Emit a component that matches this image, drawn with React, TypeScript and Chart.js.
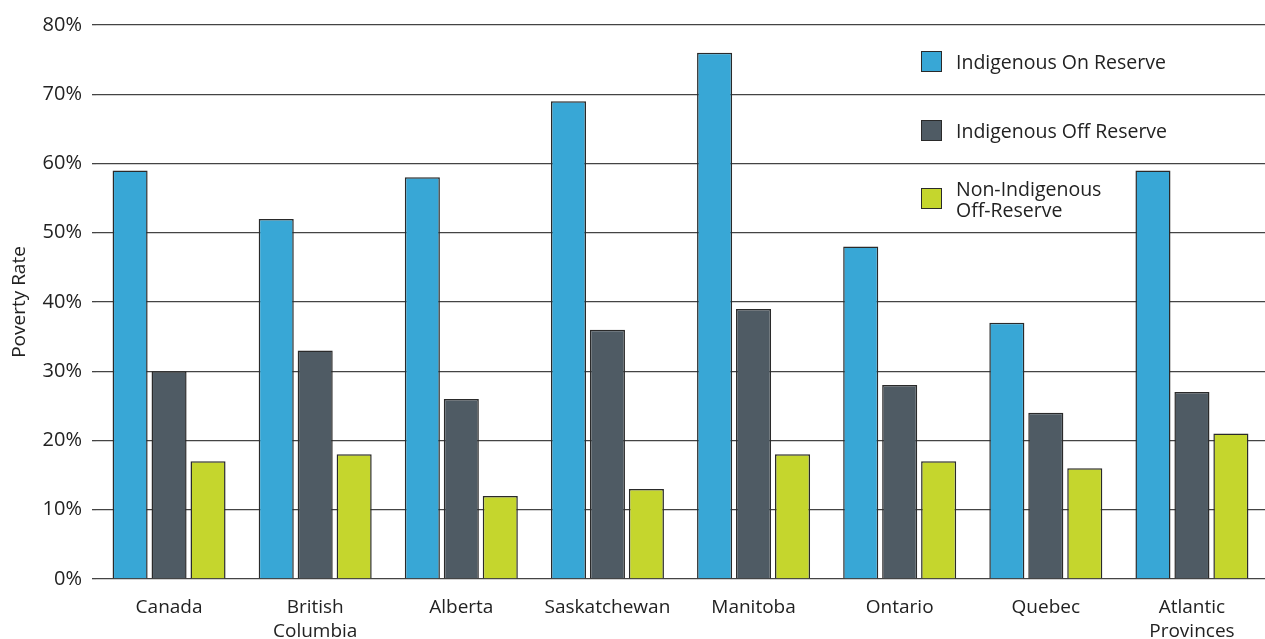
import React, { useEffect, useRef } from "react";
import { Chart, registerables } from "chart.js";

Chart.register(...registerables);

const categories: (string | string[])[] = [
  "Canada",
  ["British", "Columbia"],
  "Alberta",
  "Saskatchewan",
  "Manitoba",
  "Ontario",
  "Quebec",
  ["Atlantic", "Provinces"],
];
const onReserve = [59, 52, 58, 69, 76, 48, 37, 59];
const offReserve = [30, 33, 26, 36, 39, 28, 24, 27];
const nonIndigenous = [17, 18, 12, 13, 18, 17, 16, 21];
const seriesNames = ["Indigenous On Reserve", "Indigenous Off Reserve", "Non-Indigenous\nOff-Reserve"];
const colors = ["#38A7D6", "#4F5B64", "#C5D62D"];
const FONT = "'Open Sans', 'Noto Sans', sans-serif";

export default function App() {
  const ref = useRef<HTMLCanvasElement | null>(null);
  useEffect(() => {
    document.body.style.margin = "0";
    if (!ref.current) return;
    const chart = new Chart(ref.current, {
      type: "bar",
      data: {
        labels: categories,
        datasets: [onReserve, offReserve, nonIndigenous].map((d, i) => ({
          label: seriesNames[i],
          data: d,
          backgroundColor: colors[i],
          borderColor: "#2a2a2a",
          borderWidth: 1.5,
          categoryPercentage: 0.8,
          barPercentage: 0.9,
        })),
      },
      options: {
        animation: false,
        responsive: false,
        maintainAspectRatio: false,
        layout: { padding: { top: 25, right: 0, left: 0, bottom: 0 } },
        plugins: { legend: { display: false }, tooltip: { enabled: false } },
        scales: {
          x: {
            grid: { display: false },
            border: { display: false },
            ticks: { color: "#222", font: { family: FONT, size: 19, lineHeight: 1.25 }, padding: 9, maxRotation: 0 },
            afterFit: (s: any) => { s.height = 60; },
          },
          y: {
            min: 0,
            max: 80,
            ticks: {
              stepSize: 10,
              color: "#222",
              font: { family: FONT, size: 20 },
              padding: 10,
              callback: (v: any) => v + "%",
            },
            grid: { color: "#444", lineWidth: 1.3, tickLength: 4 },
            border: { display: false },
            title: { display: true, text: "Poverty Rate", color: "#222", font: { family: FONT, size: 19 }, padding: { top: 8, bottom: 0 } },
            afterFit: (s: any) => { s.width = 96; },
          },
        },
      },
    });
    return () => chart.destroy();
  }, []);
  const legendTop = [51, 120, 188];
  return (
    <div style={{ position: "fixed", left: 0, top: 0, width: 1265, height: 639, background: "#fff" }}>
      <canvas ref={ref} width={1265} height={639} style={{ width: 1265, height: 639 }} />
      {seriesNames.map((n, i) => (
        <div key={i} style={{ position: "absolute", left: 921, top: legendTop[i], display: "flex", alignItems: "flex-start", background: "#fff" }}>
          <div style={{ width: 21, height: 21, background: colors[i], border: "1.5px solid #2a2a2a", boxSizing: "border-box" }} />
          <div style={{ marginLeft: 14, fontFamily: FONT, fontSize: 19.5, color: "#222", lineHeight: i === 2 ? "21px" : "21px", whiteSpace: "pre", marginTop: i === 2 ? -10 : 0 }}>{n}</div>
        </div>
      ))}
    </div>
  );
}
